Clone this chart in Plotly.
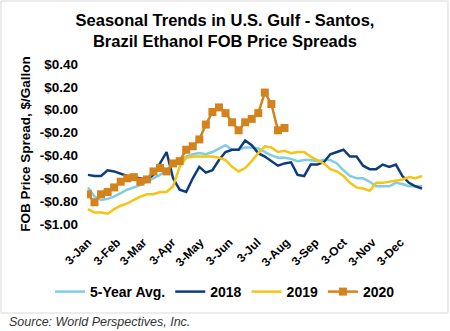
import pandas as pd
import plotly.graph_objects as go

# ---- data ----
weeks = pd.date_range("2019-01-03", periods=52, freq="7D")

avg5 = [-0.68, -0.76, -0.79, -0.78, -0.76, -0.73, -0.70, -0.68, -0.66, -0.63,
        -0.60, -0.57, -0.53, -0.48, -0.45, -0.41, -0.39, -0.38, -0.39, -0.37,
        -0.34, -0.31, -0.35, -0.35, -0.33, -0.33, -0.34, -0.37, -0.40, -0.42,
        -0.42, -0.43, -0.45, -0.44, -0.44, -0.45, -0.44, -0.44, -0.47, -0.53,
        -0.58, -0.60, -0.60, -0.63, -0.67, -0.67, -0.67, -0.64, -0.65, -0.67,
        -0.67, -0.67]

y2018 = [-0.57, -0.58, -0.58, -0.53, -0.54, -0.56, -0.58, -0.59, -0.60, -0.61,
         -0.57, -0.47, -0.37, -0.60, -0.70, -0.72, -0.60, -0.50, -0.55, -0.53,
         -0.44, -0.37, -0.35, -0.35, -0.27, -0.31, -0.38, -0.41, -0.45, -0.49,
         -0.47, -0.46, -0.57, -0.58, -0.48, -0.48, -0.46, -0.39, -0.37, -0.35,
         -0.41, -0.41, -0.49, -0.52, -0.52, -0.48, -0.50, -0.48, -0.58, -0.64,
         -0.67, -0.69]

y2019 = [-0.87, -0.90, -0.90, -0.91, -0.87, -0.84, -0.82, -0.79, -0.76, -0.74,
         -0.74, -0.72, -0.72, -0.67, -0.50, -0.42, -0.41, -0.41, -0.41, -0.41,
         -0.42, -0.44, -0.50, -0.54, -0.51, -0.45, -0.38, -0.32, -0.33, -0.37,
         -0.36, -0.38, -0.37, -0.37, -0.41, -0.44, -0.47, -0.52, -0.54, -0.58,
         -0.64, -0.68, -0.69, -0.71, -0.64, -0.64, -0.63, -0.62, -0.61, -0.59,
         -0.60, -0.58]

y2020 = [-0.74, -0.81, -0.74, -0.72, -0.68, -0.63, -0.60, -0.59, -0.63, -0.61,
         -0.54, -0.51, -0.54, -0.47, -0.45, -0.35, -0.32, -0.26, -0.13, -0.02,
         0.02, -0.03, -0.11, -0.18, -0.11, -0.08, -0.03, 0.15, 0.05, -0.18,
         -0.16]

tick_dates = pd.date_range("2019-01-01", periods=12, freq="MS") + pd.Timedelta(days=2)
tick_labels = ["3-Jan", "3-Feb", "3-Mar", "3-Apr", "3-May", "3-Jun",
               "3-Jul", "3-Aug", "3-Sep", "3-Oct", "3-Nov", "3-Dec"]
y_ticks = [0.4, 0.2, 0.0, -0.2, -0.4, -0.6, -0.8, -1.0]
y_labels = ["$0.40", "$0.20", "$0.00", "-$0.20", "-$0.40", "-$0.60", "-$0.80", "-$1.00"]

FONT = "Liberation Sans, Arial, sans-serif"
W, H = 450, 331
ML, MR, MT, MB = 87, 27, 64, 107
PW, PH = W - ML - MR, H - MT - MB

def px_x(p):
    return (p - ML) / PW

def px_y(p):
    return (H - MB - p) / PH

fig = go.Figure()
fig.add_trace(go.Scatter(x=weeks, y=avg5, mode="lines", name="5-Year Avg.",
                         line=dict(color="#7FCDE4", width=2.5)))
fig.add_trace(go.Scatter(x=weeks, y=y2018, mode="lines", name="2018",
                         line=dict(color="#0E3C7B", width=2.5)))
fig.add_trace(go.Scatter(x=weeks, y=y2019, mode="lines", name="2019",
                         line=dict(color="#F5C414", width=2.5)))
fig.add_trace(go.Scatter(x=weeks[:len(y2020)], y=y2020, mode="lines+markers", name="2020",
                         line=dict(color="#D4821C", width=2.5),
                         marker=dict(symbol="square", size=8, color="#D4821C")))

xr = ["2019-01-02", "2019-12-27"]
zero_pos = (0 - (-1.0)) / 1.4

fig.update_layout(
    width=W, height=H,
    margin=dict(l=ML, r=MR, t=MT, b=MB),
    paper_bgcolor="white", plot_bgcolor="white",
    font=dict(family=FONT, color="#000000"),
    title=dict(text="<b>Seasonal Trends in U.S. Gulf - Santos,<br>Brazil Ethanol FOB Price Spreads</b>",
               x=0.5, xref="container", xanchor="center",
               y=1 - 26 / H, yref="container", yanchor="top",
               font=dict(size=16.5, family=FONT, color="#000000")),
    xaxis=dict(range=xr, tickmode="array", tickvals=tick_dates,
               ticktext=["<b>%s</b>" % t for t in tick_labels],
               tickangle=-45, showgrid=False, showline=False, zeroline=False,
               ticks="", tickfont=dict(size=12, family=FONT, color="#000000"),
               ticklabelstandoff=8),
    xaxis2=dict(range=xr, overlaying="x", anchor="free", position=zero_pos,
                side="bottom", tickmode="array", tickvals=tick_dates,
                showticklabels=False, showline=True, linecolor="#D9D9D9", linewidth=1,
                ticks="inside", ticklen=4, tickcolor="#D9D9D9", showgrid=False,
                zeroline=False),
    yaxis=dict(range=[-1.0, 0.4], tickmode="array", tickvals=y_ticks,
               ticktext=["<b>%s</b>" % t for t in y_labels],
               showgrid=False, zeroline=False, showline=False, ticks="",
               tickfont=dict(size=13.5, family=FONT, color="#000000"),
               ticklabelstandoff=8,
               title=dict(text="<b>FOB Price Spread, $/Gallon</b>",
                          font=dict(size=13.5, family=FONT, color="#000000"),
                          standoff=5)),
    legend=dict(orientation="h", x=px_x(50), xanchor="left",
                y=px_y(292), yanchor="middle",
                font=dict(size=14, family=FONT, color="#000000"),
                itemwidth=30, bgcolor="rgba(0,0,0,0)"),
    showlegend=True,
    shapes=[dict(type="rect", xref="paper", yref="paper",
                 x0=px_x(1), x1=px_x(448), y0=px_y(313), y1=px_y(1),
                 line=dict(color="#D9D9D9", width=1), layer="below")],
    annotations=[dict(text="<i>Source: World Perspectives, Inc.</i>",
                      xref="paper", yref="paper", x=px_x(7), y=px_y(322),
                      xanchor="left", yanchor="middle", showarrow=False,
                      font=dict(size=12.5, family=FONT, color="#333333"))],
)

# legend labels bold
for tr in fig.data:
    tr.name = "<b>%s</b>" % tr.name

fig.write_html("out.html")
